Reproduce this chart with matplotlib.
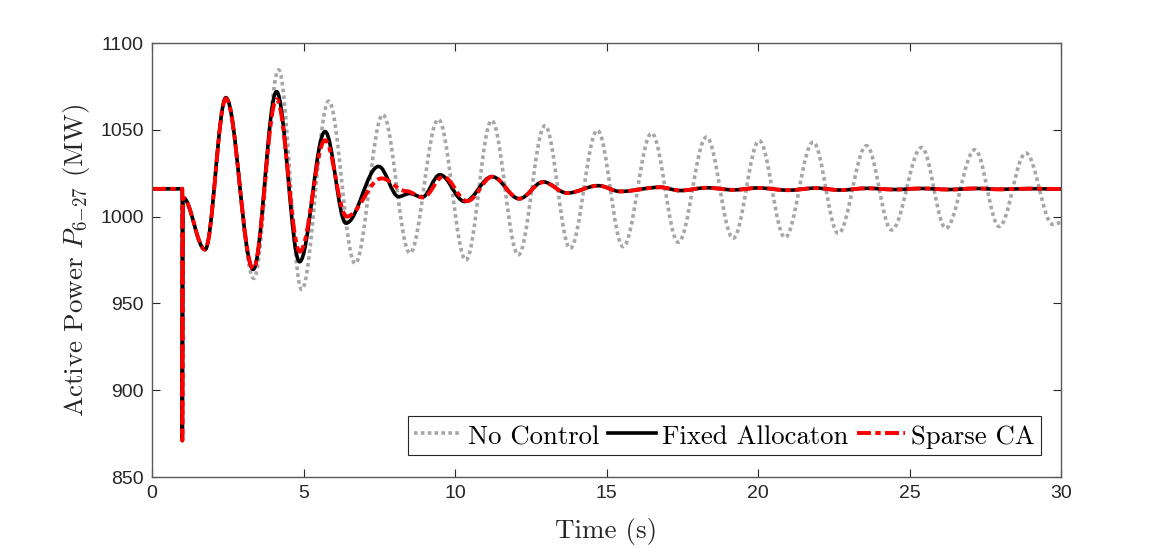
import matplotlib
matplotlib.use("Agg")
import matplotlib.pyplot as plt
from matplotlib.path import Path
from matplotlib.patches import PathPatch
from matplotlib.lines import Line2D

# ---------------- data ----------------
# pre-fault flat part and fault spike (straight segments)
step_t = [0.0, 1.0, 1.0, 1.02]
step_v = [1016.0, 1016.0, 871.0, 1011.0]

# extrema of each series after the fault (smooth segments between them)
nc_t = [1.02, 1.75, 2.44, 3.36, 4.18, 4.94, 5.83, 6.70, 7.62, 8.51, 9.45, 10.36,
        11.21, 12.09, 12.97, 13.80, 14.70, 15.55, 16.49, 17.37, 18.30, 19.18,
        20.04, 20.89, 21.82, 22.65, 23.58, 24.41, 25.40, 26.20, 27.16, 27.96,
        28.84, 29.73, 30.0]
nc_v = [1011.0, 981.0, 1068.5, 964.4, 1084.5, 958.0, 1066.5, 973.0, 1058.7, 979.0,
        1056.0, 975.0, 1055.3, 978.0, 1052.4, 981.7, 1049.7, 982.7, 1048.0, 985.2,
        1045.8, 987.5, 1043.7, 988.0, 1042.9, 990.4, 1040.8, 992.3, 1039.8, 993.3,
        1038.5, 994.3, 1036.6, 995.5, 996.5]

fa_t = [1.02, 1.75, 2.44, 3.34, 4.11, 4.87, 5.71, 6.40, 7.48, 8.14, 8.50, 8.92,
        9.50, 10.32, 11.22, 12.12, 12.91, 13.70, 14.73, 15.45, 16.77, 17.43,
        18.3, 19.2, 20.0, 21.0, 21.9, 22.7, 23.6, 24.5, 25.4, 26.3, 27.2, 28.0,
        28.9, 30.0]
fa_v = [1011.0, 981.0, 1068.5, 969.6, 1072.0, 974.0, 1049.0, 996.2, 1028.9, 1011.5,
        1013.3, 1011.2, 1024.1, 1008.7, 1023.0, 1010.3, 1020.0, 1013.6, 1017.8,
        1014.5, 1016.9, 1015.0, 1016.6, 1015.4, 1016.5, 1015.2, 1016.4, 1015.3,
        1016.3, 1015.6, 1016.2, 1015.6, 1016.2, 1015.7, 1016.1, 1015.9]

sca_t = [1.02, 1.75, 2.44, 3.34, 4.11, 4.88, 5.71, 6.42, 7.58, 8.38, 8.95, 9.61,
         10.40, 11.24, 12.12, 12.91, 13.70, 14.73, 15.45, 16.77, 17.43,
         18.3, 19.2, 20.0, 21.0, 21.9, 22.7, 23.6, 24.5, 25.4, 26.3, 27.2, 28.0,
         28.9, 30.0]
sca_v = [1011.0, 981.0, 1068.0, 970.0, 1067.6, 979.8, 1044.0, 1000.0, 1022.0, 1014.7,
         1011.0, 1023.0, 1008.9, 1023.0, 1010.3, 1019.8, 1013.6, 1017.8, 1014.5,
         1016.9, 1015.0, 1016.6, 1015.4, 1016.5, 1015.2, 1016.4, 1015.3, 1016.3,
         1015.6, 1016.2, 1015.6, 1016.2, 1015.7, 1016.1, 1015.9]

labels = ["No Control", "Fixed Allocaton", "Sparse CA"]
x_ticks = [0, 5, 10, 15, 20, 25, 30]
y_ticks = [850, 900, 950, 1000, 1050, 1100]

# ---------------- styling ----------------
plt.rcParams["mathtext.fontset"] = "cm"
plt.rcParams["axes.unicode_minus"] = False

LATEX = "cmr10"
TICKFONT = "Liberation Sans"

fig = plt.figure(figsize=(11.73, 5.48), dpi=100)
ax = fig.add_axes([152 / 1173, 71 / 548, 909 / 1173, 434 / 548])


def smooth_path(lt, lv, ct, cv, k=0.36):
    verts = [(lt[0], lv[0])]
    codes = [Path.MOVETO]
    for t, v in zip(lt[1:], lv[1:]):
        verts.append((t, v))
        codes.append(Path.LINETO)
    for i in range(len(ct) - 1):
        t0, v0, t1, v1 = ct[i], cv[i], ct[i + 1], cv[i + 1]
        dt = t1 - t0
        verts += [(t0 + k * dt, v0), (t1 - k * dt, v1), (t1, v1)]
        codes += [Path.CURVE4] * 3
    return Path(verts, codes)


styles = [
    dict(color="#a6a6a6", lw=2.6, ls=(0, (1.0, 0.9))),
    dict(color="black", lw=2.6, ls="-"),
    dict(color="#ff0000", lw=2.8, ls=(0, (3.6, 1.1, 1.4, 1.1))),
]
series = [(nc_t, nc_v), (fa_t, fa_v), (sca_t, sca_v)]

for (ct, cv), st in zip(series, styles):
    patch = PathPatch(smooth_path(step_t, step_v, ct, cv), fill=False,
                      edgecolor=st["color"], linewidth=st["lw"],
                      linestyle=st["ls"], capstyle="butt", joinstyle="round")
    ax.add_patch(patch)

ax.set_xlim(0, 30)
ax.set_ylim(850, 1100)
ax.set_xticks(x_ticks)
ax.set_yticks(y_ticks)
ax.tick_params(direction="in", length=6, width=0.8, top=True, right=True,
               colors="#262626", labelsize=14, pad=6)
for lab in ax.get_xticklabels() + ax.get_yticklabels():
    lab.set_fontfamily(TICKFONT)
for sp in ax.spines.values():
    sp.set_color("#5a5a5a")
    sp.set_linewidth(1.0)

ax.set_xlabel("Time (s)", fontfamily=LATEX, fontsize=19.5, color="#262626", labelpad=11)
ax.set_ylabel(r"Active Power $P_{6{-}27}$ (MW)", fontfamily=LATEX, fontsize=19.5,
              color="#262626", labelpad=6)

handles = [Line2D([], [], color=st["color"], lw=st["lw"], ls=st["ls"]) for st in styles]
leg = ax.legend(handles, labels, ncol=3, loc="lower right",
                bbox_to_anchor=(1 - 20 / 909, 22 / 434),
                prop={"family": LATEX, "size": 19.2},
                handlelength=1.8, handletextpad=0.25, columnspacing=0.3,
                handleheight=1.1, borderpad=0.22, borderaxespad=0.0,
                frameon=True, fancybox=False,
                edgecolor="#262626", framealpha=1.0)
leg.get_frame().set_linewidth(0.8)

fig.savefig("out.png", dpi=100)
